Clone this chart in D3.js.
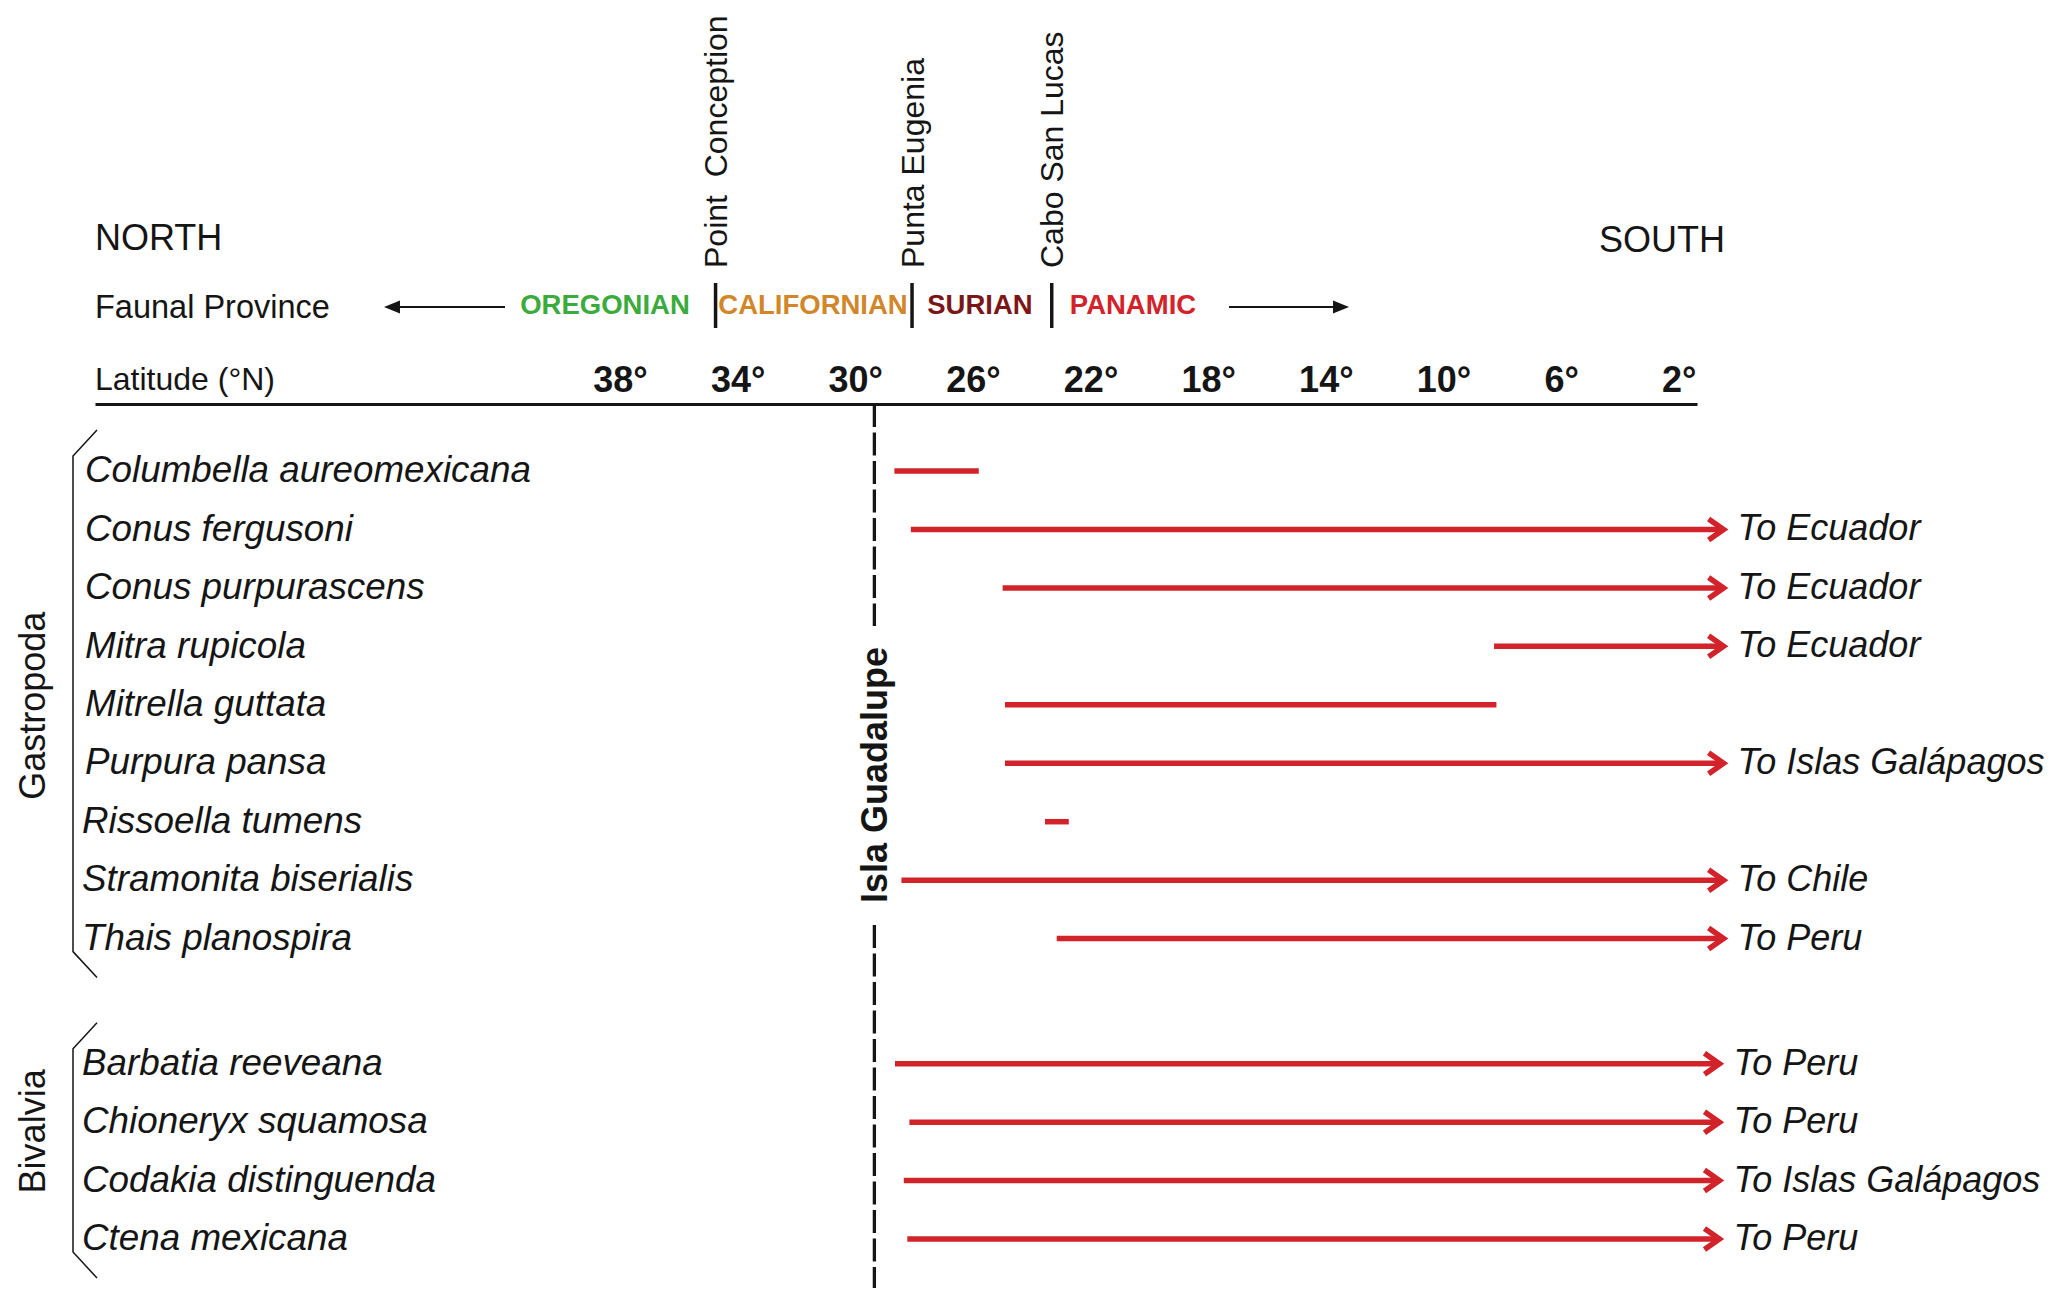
<!DOCTYPE html>
<html>
<head>
<meta charset="utf-8">
<script src="https://d3js.org/d3.v7.min.js"></script>
<style>
  body { margin: 0; background: #fff; }
  text { font-family: "Liberation Sans", Arial, Helvetica, sans-serif; fill: #151515; }
</style>
</head>
<body>
<div id="chart"></div>
<script>
// ---- data ----
var species = ["Columbella aureomexicana", "Conus fergusoni", "Conus purpurascens", "Mitra rupicola",
  "Mitrella guttata", "Purpura pansa", "Rissoella tumens", "Stramonita biserialis", "Thais planospira",
  "Barbatia reeveana", "Chioneryx squamosa", "Codakia distinguenda", "Ctena mexicana"];
var classOf = ["Gastropoda", "Gastropoda", "Gastropoda", "Gastropoda", "Gastropoda", "Gastropoda",
  "Gastropoda", "Gastropoda", "Gastropoda", "Bivalvia", "Bivalvia", "Bivalvia", "Bivalvia"];
// northern and southern limits (degrees N); 0.34 / 0.48 = arrow running off the scale
var northLat = [28.67, 28.11, 24.99, 8.28, 24.91, 24.91, 23.55, 28.43, 23.15, 28.65, 28.16, 28.35, 28.23];
var southLat = [25.8, 0.34, 0.34, 0.34, 8.2, 0.34, 22.74, 0.34, 0.34, 0.48, 0.48, 0.48, 0.48];
var goesTo = ["", "Ecuador", "Ecuador", "Ecuador", "", "Islas Galápagos", "", "Chile", "Peru",
  "Peru", "Peru", "Islas Galápagos", "Peru"];

var latTicks = [38, 34, 30, 26, 22, 18, 14, 10, 6, 2];
var provinces = ["OREGONIAN", "CALIFORNIAN", "SURIAN", "PANAMIC"];
var provinceColors = ["#3aab3c", "#d2862a", "#7c1518", "#d2232a"];
var landmarks = ["Point  Conception", "Punta Eugenia", "Cabo San Lucas"];
var landmarkLat = [34.75, 28.07, 23.32];
var islandName = "Isla Guadalupe";
var islandLat = 29.35;

var W = 2067, H = 1307;
var red = "#d2232a";

var svg = d3.select("#chart").append("svg")
  .attr("width", W)
  .attr("height", H);

// latitude scale: north on the left
var x = d3.scaleLinear().domain([55.85, 1.38]).range([95, 1697]);

// rows, with a gap between the two classes
function slot(i) { return i + (classOf[i] === "Bivalvia" ? 1.14 : 0); }
var y = d3.scaleLinear().domain([0, 1]).range([469, 527.45]);

// header texts
svg.append("text").attr("x", 95).attr("y", 250).style("font-size", "36px").text("NORTH");
svg.append("text").attr("x", 1599).attr("y", 252).style("font-size", "36px").text("SOUTH");
svg.append("text").attr("x", 95).attr("y", 318).style("font-size", "32.5px").text("Faunal Province");
svg.append("text").attr("x", 95).attr("y", 390).style("font-size", "32px").text("Latitude (°N)");

// latitude axis
var axis = svg.append("g")
  .attr("transform", "translate(0,404)")
  .call(d3.axisTop(x).tickValues(latTicks).tickSize(0).tickPadding(12)
    .tickFormat(function(d) { return d + "°"; }));
axis.select(".domain").attr("stroke", "#151515").attr("stroke-width", 3);
axis.selectAll("text")
  .style("font-family", "'Liberation Sans', Arial, sans-serif")
  .style("font-size", "36px")
  .style("font-weight", "bold")
  .attr("fill", "#151515");

// province names and boundaries
var provX = [605, 813, 980, 1133];
svg.selectAll(".prov")
  .data(provinces)
  .enter()
  .append("text")
    .attr("x", function(d, i) { return provX[i]; })
    .attr("y", 314)
    .attr("text-anchor", "middle")
    .style("font-size", "27.5px")
    .style("font-weight", "bold")
    .style("fill", function(d, i) { return provinceColors[i]; })
    .text(function(d) { return d; });

svg.selectAll(".bound")
  .data(landmarkLat)
  .enter()
  .append("line")
    .attr("x1", function(d) { return x(d); })
    .attr("x2", function(d) { return x(d); })
    .attr("y1", 283)
    .attr("y2", 328)
    .attr("stroke", "#151515")
    .attr("stroke-width", 3.5);

svg.selectAll(".landmark")
  .data(landmarks)
  .enter()
  .append("text")
    .attr("transform", function(d, i) { return "translate(" + x(landmarkLat[i]) + ",268)rotate(-90)"; })
    .attr("dy", "0.36em")
    .style("font-size", "32px")
    .style("white-space", "pre")
    .text(function(d) { return d; });

// north / south arrows
function headerArrow(x1, x2, yy) {
  var dir = x2 > x1 ? 1 : -1;
  svg.append("line")
    .attr("x1", x1).attr("x2", x2 - dir * 12)
    .attr("y1", yy).attr("y2", yy)
    .attr("stroke", "#151515").attr("stroke-width", 1.8);
  svg.append("path")
    .attr("d", "M" + x2 + "," + yy + "L" + (x2 - dir * 16) + "," + (yy - 6.5) +
      "L" + (x2 - dir * 16) + "," + (yy + 6.5) + "Z")
    .attr("fill", "#151515");
}
headerArrow(505, 384, 307);
headerArrow(1229, 1349, 307);

// Isla Guadalupe dashed line
var gx = x(islandLat);
[[404, 626], [925, 1288]].forEach(function(seg) {
  svg.append("line")
    .attr("x1", gx).attr("x2", gx)
    .attr("y1", seg[0]).attr("y2", seg[1])
    .attr("stroke", "#151515")
    .attr("stroke-width", 3.3)
    .attr("stroke-dasharray", "23,5.5");
});
svg.append("text")
  .attr("transform", "translate(" + gx + ",775)rotate(-90)")
  .attr("dy", "0.36em")
  .attr("text-anchor", "middle")
  .style("font-size", "36px")
  .style("font-weight", "bold")
  .text(islandName);

// species names
svg.selectAll(".sp")
  .data(species)
  .enter()
  .append("text")
    .attr("x", function(d, i) { return i < 6 ? 85 : 82; })
    .attr("y", function(d, i) { return y(slot(i)); })
    .attr("dy", "0.36em")
    .style("font-size", "36.8px")
    .style("font-style", "italic")
    .text(function(d) { return d; });

// class brackets and names
["Gastropoda", "Bivalvia"].forEach(function(c) {
  var idx = d3.range(species.length).filter(function(i) { return classOf[i] === c; });
  var y0 = y(slot(idx[0])), y1 = y(slot(idx[idx.length - 1]));
  var top = y0 - 13, bot = y1 + 15;
  var mid = c === "Bivalvia" ? (y0 + y1) / 2 - 18 : (y0 + y1) / 2 + 3;
  svg.append("path")
    .attr("d", "M" + 97 + "," + (top - 26) + "L73," + top + "L73," + bot + "L" + 97 + "," + (bot + 26))
    .attr("fill", "none")
    .attr("stroke", "#151515")
    .attr("stroke-width", 1.5);
  svg.append("text")
    .attr("transform", "translate(32," + mid + ")rotate(-90)")
    .attr("dy", "0.36em")
    .attr("text-anchor", "middle")
    .style("font-size", "36px")
    .text(c);
});

// range bars
var rows = d3.range(species.length);
svg.selectAll(".bar")
  .data(rows)
  .enter()
  .append("line")
    .attr("x1", function(i) { return x(northLat[i]); })
    .attr("x2", function(i) { return goesTo[i] ? x(southLat[i]) - 5 : x(southLat[i]); })
    .attr("y1", function(i) { return y(slot(i)) + 2; })
    .attr("y2", function(i) { return y(slot(i)) + 2; })
    .attr("stroke", red)
    .attr("stroke-width", 5.5);

var open = rows.filter(function(i) { return goesTo[i]; });
svg.selectAll(".head")
  .data(open)
  .enter()
  .append("path")
    .attr("d", function(i) {
      var tx = x(southLat[i]) - 4, yy = y(slot(i)) + 2;
      return "M" + (tx - 15) + "," + (yy - 10.5) + "L" + tx + "," + yy + "L" + (tx - 15) + "," + (yy + 10.5);
    })
    .attr("fill", "none")
    .attr("stroke", red)
    .attr("stroke-width", 5.5)
    .attr("stroke-linejoin", "miter");

svg.selectAll(".dest")
  .data(open)
  .enter()
  .append("text")
    .attr("x", function(i) { return x(southLat[i]) + 10; })
    .attr("y", function(i) { return y(slot(i)); })
    .attr("dy", "0.36em")
    .style("font-size", "36px")
    .style("font-style", "italic")
    .text(function(i) { return "To " + goesTo[i]; });
</script>
</body>
</html>
